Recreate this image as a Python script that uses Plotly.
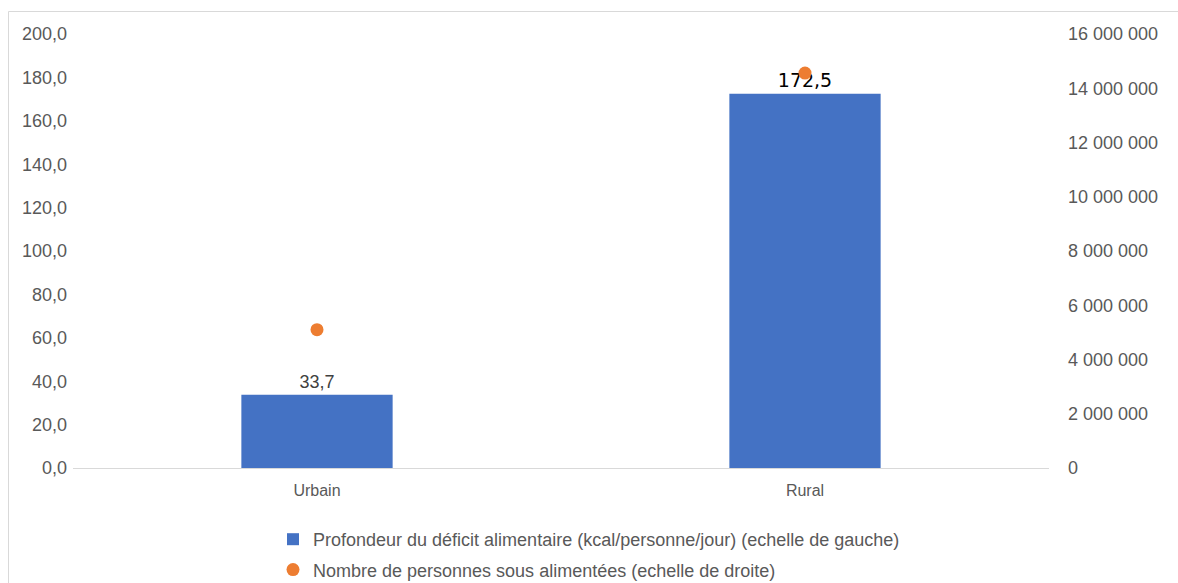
import plotly.graph_objects as go

categories = ["Urbain", "Rural"]
deficit_kcal = [33.7, 172.5]
personnes = [5100000, 14560000]
left_ticks = [0, 20, 40, 60, 80, 100, 120, 140, 160, 180, 200]
right_ticks = [0, 2000000, 4000000, 6000000, 8000000, 10000000, 12000000, 14000000, 16000000]

W, H = 1178, 583
L, T = 73, 34
pw, ph = 976, 434
R, B = W - L - pw, H - T - ph

fig = go.Figure()
fig.add_trace(go.Bar(
    x=categories, y=deficit_kcal, width=0.31,
    marker=dict(color="#4472C4", line=dict(width=0)),
    name="Profondeur du déficit alimentaire (kcal/personne/jour) (echelle de gauche)",
    legendgroup="a",
    text=["33,7", "172,5"], textposition="outside",
    textfont=dict(size=[18, 19], color=["#404040", "#000000"],
                  family=["Liberation Sans", "DejaVu Sans"]),
    cliponaxis=False,
))
fig.add_trace(go.Scatter(
    x=categories, y=personnes, yaxis="y2", mode="markers",
    marker=dict(color="#ED7D31", size=13),
    name="Nombre de personnes sous alimentées (echelle de droite)",
    legendgroup="b",
))

fig.update_layout(
    width=W, height=H,
    margin=dict(l=L, r=R, t=T, b=B, autoexpand=False),
    paper_bgcolor="white", plot_bgcolor="white",
    separators=", ",
    font=dict(family="Liberation Sans, Arial", color="#595959", size=18),
    xaxis=dict(showline=True, linecolor="#D9D9D9", linewidth=1, ticks="",
               tickfont=dict(size=16, color="#595959"), showgrid=False,
               ticklabelstandoff=8),
    yaxis=dict(range=[0, 200], tickvals=left_ticks, tickformat=".1f", showgrid=False,
               zeroline=False, showline=False, ticks="", ticklabelstandoff=5),
    yaxis2=dict(range=[0, 16000000], tickvals=right_ticks, tickformat=",d", overlaying="y",
                side="right", showgrid=False, zeroline=False, showline=False, ticks="",
                ticklabelstandoff=18),
    showlegend=True,
    legend=dict(orientation="v", x=(273 - L) / pw, xanchor="left",
                y=(T + ph - 521) / ph, yanchor="top",
                font=dict(size=18, color="#595959"), itemwidth=30, tracegroupgap=4,
                bgcolor="rgba(0,0,0,0)"),
)
fig.add_shape(type="line", xref="paper", yref="paper",
              x0=(8.5 - L) / pw, x1=(8.5 - L) / pw, y0=-0.5, y1=(T + ph - 11.5) / ph,
              line=dict(color="#D9D9D9", width=1), layer="below")
fig.add_shape(type="line", xref="paper", yref="paper",
              x0=(8.5 - L) / pw, x1=(1300 - L) / pw, y0=(T + ph - 11.5) / ph, y1=(T + ph - 11.5) / ph,
              line=dict(color="#D9D9D9", width=1), layer="below")

fig.write_html("out.html", config={"displayModeBar": False},
               post_script="document.body.style.margin='0';document.body.style.overflow='hidden';")
